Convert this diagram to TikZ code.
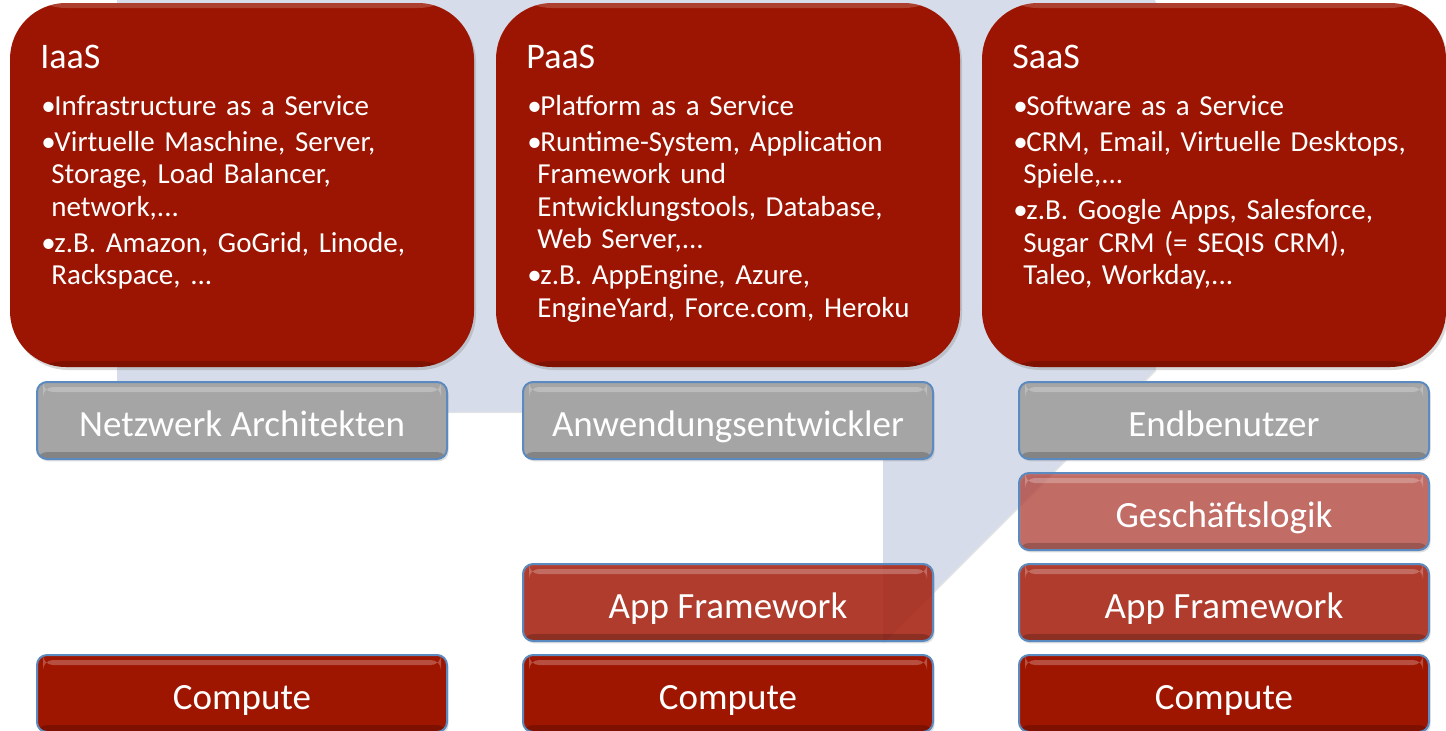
\documentclass[tikz,border=0pt]{standalone}
\usepackage{fontspec}
\setmainfont{Carlito}
\usetikzlibrary{positioning,shadows}

\definecolor{svcred}{HTML}{9C1502}
\definecolor{cmpred}{HTML}{9E1500}
\definecolor{fwred}{HTML}{A7200F}
\definecolor{logicred}{HTML}{B43C32}
\definecolor{usergray}{HTML}{A5A5A5}
\definecolor{barblue}{HTML}{5A8AC0}
\definecolor{backblue}{HTML}{D6DCE9}

\newcommand{\bul}[1]{\hangindent=5pt\hangafter=1\noindent\makebox[6.5pt][l]{\textbullet}#1\par}

\begin{document}
\begin{tikzpicture}[x=0.5pt,y=-0.5pt,node distance=7pt,
  svc node/.style={rectangle,rounded corners=28pt,fill=svcred,
    minimum width=232pt,minimum height=182pt,inner sep=0pt,outer sep=0pt,
    drop shadow={shadow xshift=1pt,shadow yshift=-1.5pt,opacity=.3},
    path picture={
      \fill[white,opacity=.18] (path picture bounding box.north west)
        rectangle ([yshift=-2.5pt]path picture bounding box.north east);
      \fill[black,opacity=.18] ([yshift=3pt]path picture bounding box.south west)
        rectangle (path picture bounding box.south east);}},
  title node/.style={anchor=base west,inner sep=0pt,text=white,
    font=\fontsize{18pt}{22pt}\selectfont},
  list node/.style={anchor=base west,inner sep=0pt,text=white,text width=214pt,
    align=left,font=\fontsize{14.5pt}{16.25pt}\selectfont},
  bar node/.style={rectangle,rounded corners=5pt,draw=barblue,line width=1pt,
    minimum width=205pt,minimum height=38.5pt,inner sep=0pt,outer sep=0pt,
    text=white,text height=15.5pt,text depth=0pt,
    font=\fontsize{18.5pt}{22pt}\selectfont,
    drop shadow={shadow xshift=.8pt,shadow yshift=-1.2pt,opacity=.25},
    path picture={
      \fill[white,opacity=.25] ([xshift=3pt,yshift=-2.5pt]path picture bounding box.north west)
        rectangle ([xshift=-3pt,yshift=-5pt]path picture bounding box.north east);
      \fill[black,opacity=.2] ([yshift=3.5pt]path picture bounding box.south west)
        rectangle (path picture bounding box.south east);}},
  user node/.style={bar node,fill=usergray},
  logic node/.style={bar node,fill=logicred,fill opacity=.7,text opacity=1},
  fw node/.style={bar node,fill=fwred,fill opacity=.85,text opacity=1},
  cmp node/.style={bar node,fill=cmpred}]

  \useasboundingbox (0,0) rectangle (1446,730);
  \fill[backblue,drop shadow={shadow xshift=.6pt,shadow yshift=-.6pt,opacity=.2}]
    (117,0) -- (117,412) -- (883,412) -- (883,642) -- (1155,370) -- (1155,0) -- cycle;

  \node[svc node] (IAAS) at (242,185) {};
  \node[svc node,right=11pt of IAAS] (PAAS) {};
  \node[svc node,right=11pt of PAAS] (SAAS) {};

  \node[title node] (IAASTITLE) at ([shift={(15pt,-32.5pt)}]IAAS.north west) {IaaS};
  \node[title node] (PAASTITLE) at ([shift={(15pt,-32.5pt)}]PAAS.north west) {PaaS};
  \node[title node] (SAASTITLE) at ([shift={(15pt,-32.5pt)}]SAAS.north west) {SaaS};

  \node[list node] (IAASTEXT) at ([shift={(15.5pt,-56pt)}]IAAS.north west) {%
    \setlength{\parskip}{1.8pt}%
    \bul{Infrastructure as a Service}%
    \bul{Virtuelle Maschine, Server,\newline Storage, Load Balancer,\newline network,...}%
    \bul{z.B. Amazon, GoGrid, Linode,\newline Rackspace, ...}};
  \node[list node] (PAASTEXT) at ([shift={(15.5pt,-56pt)}]PAAS.north west) {%
    \setlength{\parskip}{1.8pt}%
    \bul{Platform as a Service}%
    \bul{Runtime-System, Application\newline Framework und\newline Entwicklungstools, Database,\newline Web Server,...}%
    \bul{z.B. AppEngine, Azure,\newline EngineYard, Force.com, Heroku}};
  \node[list node] (SAASTEXT) at ([shift={(15.5pt,-56pt)}]SAAS.north west) {%
    \setlength{\parskip}{1.8pt}%
    \bul{Software as a Service}%
    \bul{CRM, Email, Virtuelle Desktops,\newline Spiele,...}%
    \bul{z.B. Google Apps, Salesforce,\newline Sugar CRM (= SEQIS CRM),\newline Taleo, Workday,...}};

  \node[user node,below=7.5pt of IAAS] (NETARCH) {Netzwerk Architekten};
  \node[user node,below=7.5pt of PAAS] (APPDEV) {Anwendungsentwickler};
  \node[user node,below=7.5pt of SAAS,xshift=5pt] (ENDUSER) {Endbenutzer};

  \node[logic node,below=of ENDUSER] (LOGIC) {Geschäftslogik};
  \node[fw node,below=of LOGIC] (SAASFW) {App Framework};
  \node[cmp node,below=of SAASFW] (SAASCMP) {Compute};

  \node[fw node,below=52.5pt of APPDEV] (PAASFW) {App Framework};
  \node[cmp node,below=of PAASFW] (PAASCMP) {Compute};

  \node[cmp node,below=98pt of NETARCH] (IAASCMP) {Compute};
\end{tikzpicture}
\end{document}
